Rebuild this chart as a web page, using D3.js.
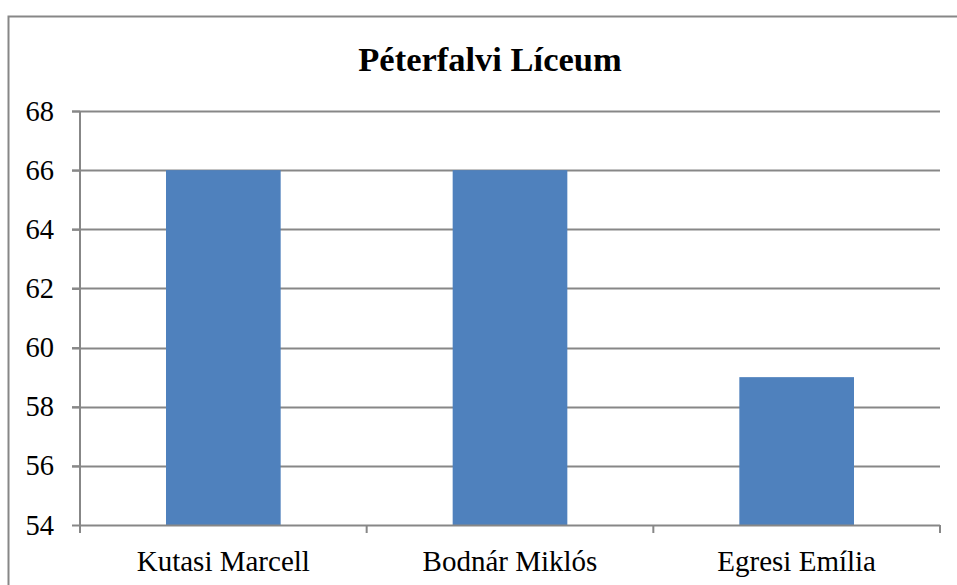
<!DOCTYPE html>
<html>
<head>
<meta charset="UTF-8" />
<script src="https://d3js.org/d3.v7.min.js"></script>
</head>
<body style="margin:0;overflow:hidden">
<script>
const title = "Péterfalvi Líceum";
const names = ["Kutasi Marcell", "Bodnár Miklós", "Egresi Emília"];
const scores = [66, 66, 59];
const yTicks = [54, 56, 58, 60, 62, 64, 66, 68];

const W = 957, H = 585;
const mLeft = 80, mRight = 940, mTop = 111, mBottom = 525;
const grey = "#878787";
const font = size => `font-family: "Liberation Serif"; font-size: ${size}px`;

const svg = d3.select("body").append("svg").attr("width", W).attr("height", H)
  .style("display", "block");

// outer frame, runs off the right and bottom edges
svg.append("path").attr("d", `M8.5,${H}V16.5H${W}`)
  .attr("fill", "none").attr("stroke", grey).attr("stroke-width", 2);

svg.append("text").attr("x", 490).attr("y", 71).attr("text-anchor", "middle")
  .attr("style", font(34.5) + "; font-weight: bold")
  .text(title);

const x = d3.scaleBand().domain(names).range([mLeft, mRight]).paddingInner(0.6).paddingOuter(0.3);
const y = d3.scaleLinear().domain([54, 68]).range([mBottom, mTop]);

// gridlines
svg.append("g").selectAll("line").data(yTicks.slice(1)).join("line")
  .attr("x1", mLeft - 8).attr("x2", mRight)
  .attr("y1", d => Math.round(y(d)) + 0.5).attr("y2", d => Math.round(y(d)) + 0.5)
  .attr("stroke", grey).attr("stroke-width", 2);

// bars
svg.append("g").selectAll("rect").data(scores).join("rect")
  .attr("x", (d, i) => x(names[i]))
  .attr("width", x.bandwidth())
  .attr("y", d => y(d))
  .attr("height", d => y(54) - y(d))
  .attr("fill", "#4F81BD");

// y axis
const yAxis = svg.append("g").attr("transform", `translate(${mLeft},0)`)
  .call(d3.axisLeft(y).tickValues(yTicks).tickSize(8).tickPadding(18));
yAxis.attr("font-family", null).attr("font-size", null);
yAxis.selectAll("path,line").attr("stroke", grey).attr("stroke-width", 2);
yAxis.select(".domain").attr("d", `M0,${mTop}V${mBottom}`);
yAxis.selectAll("text").attr("style", font(28.5)).attr("fill", "#000");

// x axis
const bounds = d3.range(names.length + 1).map(i => mLeft + i * (mRight - mLeft) / names.length);
svg.append("line").attr("x1", mLeft).attr("x2", mRight).attr("y1", mBottom + 0.5).attr("y2", mBottom + 0.5)
  .attr("stroke", grey).attr("stroke-width", 2);
svg.append("g").selectAll("line").data(bounds).join("line")
  .attr("x1", d => d).attr("x2", d => d).attr("y1", mBottom).attr("y2", mBottom + 8)
  .attr("stroke", grey).attr("stroke-width", 2);
svg.append("g").selectAll("text").data(names).join("text")
  .attr("x", d => x(d) + x.bandwidth() / 2).attr("y", 571)
  .attr("text-anchor", "middle")
  .attr("style", font(29))
  .text(d => d);
</script>
</body>
</html>
